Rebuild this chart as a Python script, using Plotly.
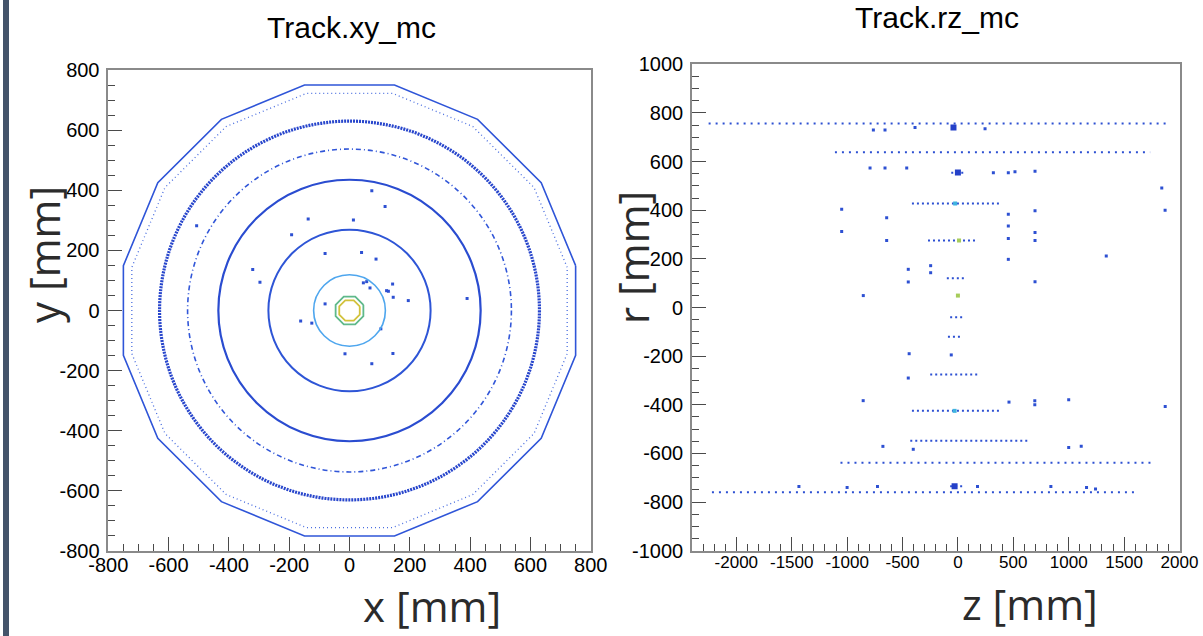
import numpy as np
import plotly.graph_objects as go

# ---------------- Track.xy_mc : detector layers seen in the transverse plane ----------------
xy_ring_r = [119, 269, 435, 537, 630]           # round layers, radius in mm
xy_poly_apothem = [34, 46, 722, 750]             # polygonal layers, inner radius in mm
xy_poly_sides = [8, 8, 16, 16]

# isolated hits (mm)
xy_hit_x = [74, 118, 13, -137, -192, -81, -297, -321, 57, 123, -81, -507,
            40, 88, 46, 68, 143, 129, 145, 195, -162, -125, 104, -15, 74, 390, 144]
xy_hit_y = [398, 346, 301, 304, 252, 190, 94, 136, 96, 66, 22, 282,
            193, 171, 92, 75, 88, 64, 44, 33, -35, -42, -61, -144, -177, 40, -143]

# ---------------- Track.rz_mc : layers seen in the r-z plane ----------------
rz_layer_r = [757, 638, 554, 428, 275, 120, -40, -120, -275, -425, -548, -638, -735, -760]
rz_layer_z0 = [-2250, -1110, -60, -415, -270, -100, -70, -90, -250, -415, -430, -1060, -70, -2220]
rz_layer_z1 = [1880, 1735, 70, 380, 180, 55, 65, 45, 180, 380, 650, 1760, 45, 1600]

rz_hit_z = [-763, -658, -387, 245, -793, -658, -462, 320, 455, 515, 696,
            -1049, -1049, -643, -643, 455, 455, 455, 455, 696, 696, 696, 696,
            -448, -246, -246, -448, -854, 1840, 1870, 1339,
            -855, 461, 694, 694, 1000, 1871, -677, -403, 1000, 1113,
            -1435, -1000, -726, 177, 839, 1161, 1242, -448, -440, -60]
rz_hit_r = [730, 730, 740, 735, 574, 574, 574, 554, 554, 558, 560,
            404, 312, 369, 275, 383, 335, 284, 198, 398, 308, 275, 106,
            157, 172, 143, 105, 49, 491, 400, 212,
            -383, -389, -383, -400, -379, -407, -571, -583, -576, -571,
            -736, -740, -736, -736, -736, -740, -746, -290, -190, -195]

# dense clusters close to z = 0
rz_dense_z = [-40, -30, 0]
rz_dense_r = [740, -735, 555]
# high-occupancy cells
rz_hot_z = [-25, -30, 10, 0]
rz_hot_r = [428, -425, 275, 49]

xy_tick_vals = [-800, -600, -400, -200, 0, 200, 400, 600, 800]
xy_tick_text = ["-800", "-600", "-400", "-200", "0", "200", "400", "600", "800"]
rz_z_tick_vals = [-2000, -1500, -1000, -500, 0, 500, 1000, 1500, 2000]
rz_z_tick_text = ["-2000", "-1500", "-1000", "-500", "0", "500", "1000", "1500", "2000"]
rz_r_tick_vals = [-1000, -800, -600, -400, -200, 0, 200, 400, 600, 800, 1000]
rz_r_tick_text = ["-1000", "-800", "-600", "-400", "-200", "0", "200", "400", "600", "800", "1000"]

W, H = 1203, 636
BLUE = "#2d50d2"


def px(x):
    return x / W


def py(y):
    return 1 - y / H


fig = go.Figure()

# round layers
ring_style = [
    dict(color="#4ea6ee", width=1.6),
    dict(color="#2e55d6", width=2),
    dict(color="#2a4cd0", width=2.2),
    dict(color="#3156d8", width=1.6, dash="5px,3px,1px,3px"),
    dict(color="#2846cc", width=3.2, dash="2px,1px"),
]
shapes = []
for r, st in zip(xy_ring_r, ring_style):
    shapes.append(dict(type="circle", xref="x", yref="y", x0=-r, x1=r, y0=-r, y1=r,
                       line=st, layer="above"))

# polygonal layers
poly_style = [
    dict(color="#d2c23c", width=1.8),
    dict(color="#5fb98a", width=1.8),
    dict(color="#4a6ee0", width=1.3, dash="1px,3px"),
    dict(color="#2f55d8", width=1.6),
]
for a, n, st in zip(xy_poly_apothem, xy_poly_sides, poly_style):
    rc = a / np.cos(np.pi / n)
    ang = np.pi / n + 2 * np.pi * np.arange(n + 1) / n
    fig.add_trace(go.Scatter(x=rc * np.cos(ang), y=rc * np.sin(ang), mode="lines",
                             line=st, xaxis="x", yaxis="y", hoverinfo="skip"))

fig.add_trace(go.Scatter(x=xy_hit_x, y=xy_hit_y, mode="markers",
                         marker=dict(symbol="square", size=3, color=BLUE, line=dict(width=0)),
                         xaxis="x", yaxis="y"))

# r-z layers as dotted segments
for r, z0, z1 in zip(rz_layer_r, rz_layer_z0, rz_layer_z1):
    long_layer = abs(z1 - z0) > 2000
    dash = "2px,5px" if long_layer else "2px,3px"
    fig.add_trace(go.Scatter(x=[z0, z1], y=[r, r], mode="lines",
                             line=dict(color=BLUE, width=2, dash=dash),
                             xaxis="x2", yaxis="y2", hoverinfo="skip"))

fig.add_trace(go.Scatter(x=rz_hit_z, y=rz_hit_r, mode="markers",
                         marker=dict(symbol="square", size=3, color=BLUE, line=dict(width=0)),
                         xaxis="x2", yaxis="y2"))
fig.add_trace(go.Scatter(x=rz_dense_z, y=rz_dense_r, mode="markers",
                         marker=dict(symbol="square", size=6, color="#2440c8", line=dict(width=0)),
                         xaxis="x2", yaxis="y2"))
fig.add_trace(go.Scatter(x=rz_hot_z, y=rz_hot_r, mode="markers",
                         marker=dict(symbol="square", size=4, color=["#3fb4e0", "#3fb4e0", "#a6cc5a", "#a6cc5a"],
                                     line=dict(width=0)),
                         xaxis="x2", yaxis="y2"))

TICKFONT = dict(family="Liberation Sans, Arial, sans-serif", color="black")


def axis(domain, rng, vals, text, minor_dtick, size, anchor, standoff):
    return dict(domain=domain, range=rng, tickmode="array", tickvals=vals, ticktext=text,
                ticks="inside", ticklen=14, tickwidth=1, tickcolor="#4a4a4a",
                minor=dict(ticks="inside", ticklen=7, tickwidth=1, tickcolor="#4a4a4a",
                           tickmode="linear", tick0=0, dtick=minor_dtick, showgrid=False),
                showline=True, linecolor="#8a8a8a", linewidth=1.6, mirror=True,
                showgrid=False, zeroline=False, fixedrange=True, automargin=False,
                tickfont=dict(size=size, **TICKFONT), anchor=anchor, ticklabelstandoff=standoff)


fig.update_layout(
    template="none",
    width=W, height=H, margin=dict(l=0, r=0, t=0, b=0, pad=0), autosize=False,
    paper_bgcolor="white", plot_bgcolor="white", showlegend=False,
    xaxis=axis([px(108.3), px(590.7)], [-800, 800], xy_tick_vals, xy_tick_text, 50, 20, "y", -5),
    yaxis=axis([py(551), py(70)], [-800, 800], xy_tick_vals, xy_tick_text, 50, 20, "x", 3),
    xaxis2=axis([px(692), px(1179.5)], [-2400, 2000], rz_z_tick_vals, rz_z_tick_text, 100, 17, "y2", -5),
    yaxis2=axis([py(550.7), py(64.3)], [-1000, 1000], rz_r_tick_vals, rz_r_tick_text, 50, 20, "x2", 3),
    shapes=shapes + [dict(type="rect", xref="paper", yref="paper", x0=px(3), x1=px(9), y0=0, y1=1,
                          fillcolor="#44546a", line=dict(width=0), layer="above")],
)

TITLE = dict(family="Liberation Sans, Arial, sans-serif", size=30, color="black")
LABEL = dict(family="Open Sans, sans-serif", size=42, color="#2b2b2b")
annotations = [
    dict(text="Track.xy_mc", x=px(351), y=py(27), font=TITLE),
    dict(text="Track.rz_mc", x=px(937), y=py(18), font=TITLE),
    dict(text="x [mm]", x=px(432), y=py(605), font=LABEL),
    dict(text="z [mm]", x=px(1030), y=py(603), font=LABEL),
    dict(text="y [mm]", x=px(44), y=py(255), font=LABEL, textangle=-90),
    dict(text="r [mm]", x=px(632), y=py(258), font=LABEL, textangle=-90),
]
for a in annotations:
    a.update(xref="paper", yref="paper", xanchor="center", yanchor="middle", showarrow=False)
fig.update_layout(annotations=annotations)

fig.write_html("out.html", config={"displayModeBar": False})
